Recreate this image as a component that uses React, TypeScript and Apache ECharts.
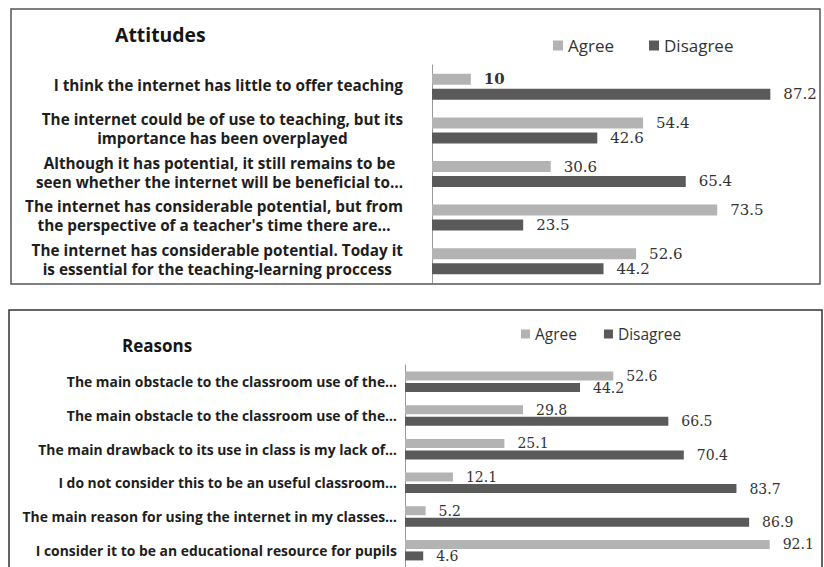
import React, { useEffect, useRef } from "react";
import * as echarts from "echarts";

const attitudeCategories = [
  "I think the internet has little to offer teaching",
  "The internet could be of use to teaching, but its\nimportance has been overplayed",
  "Although it has potential, it still remains to be\nseen whether the internet will be beneficial to…",
  "The internet has considerable potential, but from\nthe perspective of a teacher's time there are…",
  "The internet has considerable potential. Today it\nis essential for the teaching-learning proccess",
];
const attitudeAgree = [10, 54.4, 30.6, 73.5, 52.6];
const attitudeDisagree = [87.2, 42.6, 65.4, 23.5, 44.2];

const reasonCategories = [
  "The main obstacle to the classroom use of the…",
  "The main obstacle to the classroom use of the…",
  "The main drawback to its use in class is my lack of…",
  "I do not consider this to be an useful classroom…",
  "The main reason for using the internet in my classes…",
  "I consider it to be an educational resource for pupils",
];
const reasonAgree = [52.6, 29.8, 25.1, 12.1, 5.2, 92.1];
const reasonDisagree = [44.2, 66.5, 70.4, 83.7, 86.9, 4.6];

const seriesNames = ["Agree", "Disagree"];

const AGREE = "#b3b3b3";
const DISAGREE = "#5a5a5a";
const SANS = "'Open Sans', Lato, sans-serif";
const NUM = "'DejaVu Serif', serif";

function richLabel(v: string) {
  return v
    .split("\n")
    .map((l) => `{c|${l}}`)
    .join("\n");
}

export default function App() {
  const ref = useRef<HTMLDivElement>(null);
  useEffect(() => {
    if (!ref.current) return;
    document.body.style.margin = "0";
    const chart = echarts.init(ref.current, null, { renderer: "svg" });
    const option: any = {
      animation: false,
      backgroundColor: "#ffffff",
      title: [
        {
          text: "Attitudes",
          left: 110,
          top: 20,
          textStyle: { fontFamily: SANS, fontSize: 19.4, fontWeight: "bold", color: "#151515" },
        },
        {
          text: "Reasons",
          left: 117,
          top: 332,
          textStyle: { fontFamily: SANS, fontSize: 17, fontWeight: "bold", color: "#151515" },
        },
      ],
      legend: [
        {
          data: seriesNames,
          left: 548,
          top: 32,
          icon: "rect",
          itemWidth: 10,
          itemHeight: 10,
          itemGap: 35,
          textStyle: { fontFamily: SANS, fontSize: 17, color: "#333" },
        },
        {
          data: seriesNames,
          left: 516,
          top: 321,
          icon: "rect",
          itemWidth: 9,
          itemHeight: 9,
          itemGap: 27,
          textStyle: { fontFamily: SANS, fontSize: 15.5, color: "#333" },
        },
      ],
      graphic: [
        {
          type: "rect",
          shape: { x: 11, y: 9, width: 809, height: 275 },
          style: { fill: "none", stroke: "#555", lineWidth: 1.5 },
          z: 100,
        },
        {
          type: "rect",
          shape: { x: 9, y: 310, width: 813, height: 290 },
          style: { fill: "none", stroke: "#333", lineWidth: 1.5 },
          z: 100,
        },
      ],
      grid: [
        { left: 432, top: 65, width: 388, height: 218 },
        { left: 405, top: 365, width: 396, height: 210 },
      ],
      xAxis: [
        { gridIndex: 0, type: "value", min: 0, max: 100, show: false, splitLine: { show: false } },
        { gridIndex: 1, type: "value", min: 0, max: 100, show: false, splitLine: { show: false } },
      ],
      yAxis: [
        {
          gridIndex: 0,
          type: "category",
          inverse: true,
          data: attitudeCategories,
          axisLine: { lineStyle: { color: "#999", width: 1 } },
          axisTick: { show: false },
          axisLabel: {
            interval: 0,
            margin: 29,
            padding: [0, 0, 4, 0],
            formatter: richLabel,
            rich: {
              c: {
                align: "center",
                fontFamily: SANS,
                fontSize: 15.3,
                fontWeight: "bold",
                color: "#1e1e1e",
                lineHeight: 19,
              },
            },
          },
        },
        {
          gridIndex: 1,
          type: "category",
          inverse: true,
          data: reasonCategories,
          axisLine: { lineStyle: { color: "#999", width: 1 } },
          axisTick: { show: false },
          axisLabel: {
            interval: 0,
            margin: 8,
            fontFamily: SANS,
            fontSize: 13.9,
            fontWeight: "bold",
            color: "#1e1e1e",
          },
        },
      ],
      series: [
        {
          name: seriesNames[0],
          type: "bar",
          xAxisIndex: 0,
          yAxisIndex: 0,
          data: attitudeAgree.map((v, i) =>
            i === 0 ? { value: v, label: { fontWeight: "bold" } } : v
          ),
          barWidth: 11,
          barGap: "36%",
          itemStyle: { color: AGREE },
          label: { show: true, position: "right", distance: 13, fontFamily: NUM, fontSize: 15, color: "#333" },
        },
        {
          name: seriesNames[1],
          type: "bar",
          xAxisIndex: 0,
          yAxisIndex: 0,
          data: attitudeDisagree,
          barWidth: 11,
          barGap: "36%",
          itemStyle: { color: DISAGREE },
          label: { show: true, position: "right", distance: 13, fontFamily: NUM, fontSize: 15, color: "#333" },
        },
        {
          name: seriesNames[0],
          type: "bar",
          xAxisIndex: 1,
          yAxisIndex: 1,
          data: reasonAgree,
          barWidth: 9,
          barGap: "28%",
          itemStyle: { color: AGREE },
          label: { show: true, position: "right", distance: 13, fontFamily: NUM, fontSize: 14, color: "#333" },
        },
        {
          name: seriesNames[1],
          type: "bar",
          xAxisIndex: 1,
          yAxisIndex: 1,
          data: reasonDisagree,
          barWidth: 9,
          barGap: "28%",
          itemStyle: { color: DISAGREE },
          label: { show: true, position: "right", distance: 13, fontFamily: NUM, fontSize: 14, color: "#333" },
        },
      ],
    };
    chart.setOption(option);
    return () => chart.dispose();
  }, []);
  return (
    <div
      ref={ref}
      style={{ position: "absolute", left: 0, top: 0, width: 824, height: 567, background: "#fff" }}
    />
  );
}
